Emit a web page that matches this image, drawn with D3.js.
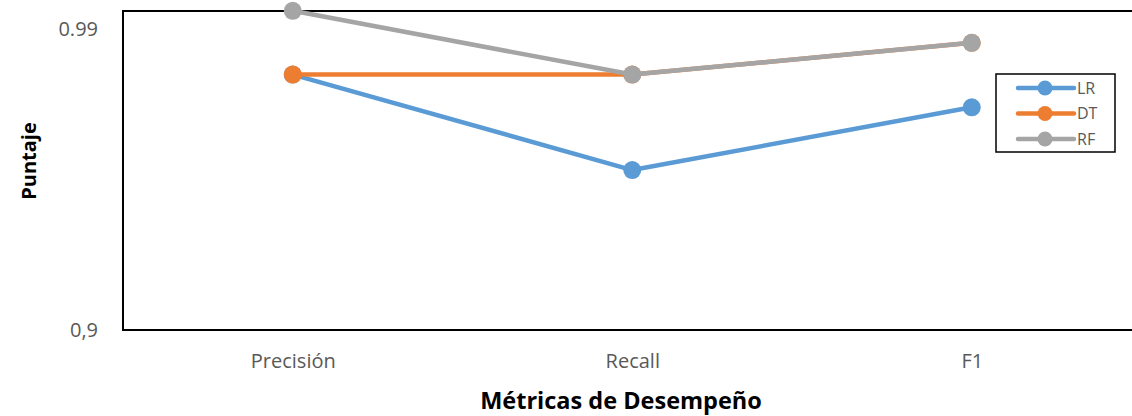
<!DOCTYPE html>
<html>
<head>
<meta charset="utf-8">
<script src="https://cdn.jsdelivr.net/npm/d3@7"></script>
<style>
  html, body { margin: 0; padding: 0; background: #fff; }
  svg { display: block; font-family: "Open Sans", sans-serif; }
</style>
</head>
<body>
<svg id="chart" width="1132" height="416"></svg>
<script>
// Métricas por modelo
const categories = ["Precisión", "Recall", "F1"];
const seriesNames = ["LR", "DT", "RF"];
const lrValues = [0.9765, 0.9479, 0.9667];
const dtValues = [0.9765, 0.9765, 0.9860];
const rfValues = [0.9956, 0.9765, 0.9860];
const yTickValues = [0.9, 0.99];
const yTickLabels = ["0,9", "0.99"];
const seriesColors = ["#5B9BD5", "#ED7D31", "#A5A5A5"];

const series = seriesNames.map((name, i) => ({
  name,
  color: seriesColors[i],
  values: [lrValues, dtValues, rfValues][i]
}));

const svg = d3.select("#chart");
const plot = { left: 123, top: 11, right: 1141.5, bottom: 330 };

const x = d3.scalePoint()
  .domain(categories)
  .range([plot.left, plot.right])
  .padding(0.5);

const y = d3.scaleLinear()
  .domain([0.9, 0.99554])
  .range([plot.bottom, plot.top]);

// frame of the plot area
svg.append("rect")
  .attr("x", plot.left)
  .attr("y", plot.top)
  .attr("width", plot.right - plot.left)
  .attr("height", plot.bottom - plot.top)
  .attr("fill", "none")
  .attr("stroke", "#000")
  .attr("stroke-width", 2);

// y axis labels
const yAxis = d3.axisLeft(y)
  .tickValues(yTickValues)
  .tickFormat((d, i) => yTickLabels[i])
  .tickSize(0)
  .tickPadding(25);
const gy = svg.append("g")
  .attr("transform", `translate(${plot.left},0)`)
  .call(yAxis);
gy.select(".domain").remove();
gy.selectAll("text")
  .attr("font-family", "Open Sans")
  .attr("font-size", 20)
  .attr("fill", "#595959");

// x axis labels
const xAxis = d3.axisBottom(x).tickSize(0).tickPadding(0);
const gx = svg.append("g")
  .attr("transform", `translate(0,${plot.bottom})`)
  .call(xAxis);
gx.select(".domain").remove();
gx.selectAll("text")
  .attr("font-family", "Open Sans")
  .attr("font-size", 20)
  .attr("fill", "#595959")
  .attr("dy", null)
  .attr("y", 38);

// axis titles
svg.append("text")
  .attr("x", 621)
  .attr("y", 409)
  .attr("text-anchor", "middle")
  .attr("font-family", "Open Sans")
  .attr("font-weight", "bold")
  .attr("font-size", 23.5)
  .attr("fill", "#000")
  .text("Métricas de Desempeño");

svg.append("text")
  .attr("transform", "translate(36,161) rotate(-90)")
  .attr("text-anchor", "middle")
  .attr("font-family", "Open Sans")
  .attr("font-weight", "bold")
  .attr("font-size", 20)
  .attr("fill", "#000")
  .text("Puntaje");

// series lines with markers
const line = d3.line()
  .x((d, i) => x(categories[i]))
  .y(d => y(d));

series.forEach(s => {
  const g = svg.append("g");
  g.append("path")
    .attr("d", line(s.values))
    .attr("fill", "none")
    .attr("stroke", s.color)
    .attr("stroke-width", 4.5)
    .attr("stroke-linejoin", "round");
  g.selectAll("circle")
    .data(s.values)
    .join("circle")
    .attr("cx", (d, i) => x(categories[i]))
    .attr("cy", d => y(d))
    .attr("r", 9)
    .attr("fill", s.color);
});

// legend
const legend = svg.append("g");
legend.append("rect")
  .attr("x", 996)
  .attr("y", 74)
  .attr("width", 119)
  .attr("height", 78)
  .attr("fill", "#fff")
  .attr("stroke", "#000")
  .attr("stroke-width", 1.5);

const rowY = d3.scalePoint().domain(seriesNames).range([88, 139]);
series.forEach(s => {
  const ly = rowY(s.name);
  legend.append("line")
    .attr("x1", 1018).attr("x2", 1074)
    .attr("y1", ly).attr("y2", ly)
    .attr("stroke", s.color)
    .attr("stroke-width", 4.5)
    .attr("stroke-linecap", "round");
  legend.append("circle")
    .attr("cx", 1045).attr("cy", ly).attr("r", 7.5)
    .attr("fill", s.color);
  legend.append("text")
    .attr("x", 1077).attr("y", ly)
    .attr("dy", "0.35em")
    .attr("font-family", "Open Sans")
    .attr("font-size", 16)
    .attr("fill", "#595959")
    .text(s.name);
});
</script>
</body>
</html>
